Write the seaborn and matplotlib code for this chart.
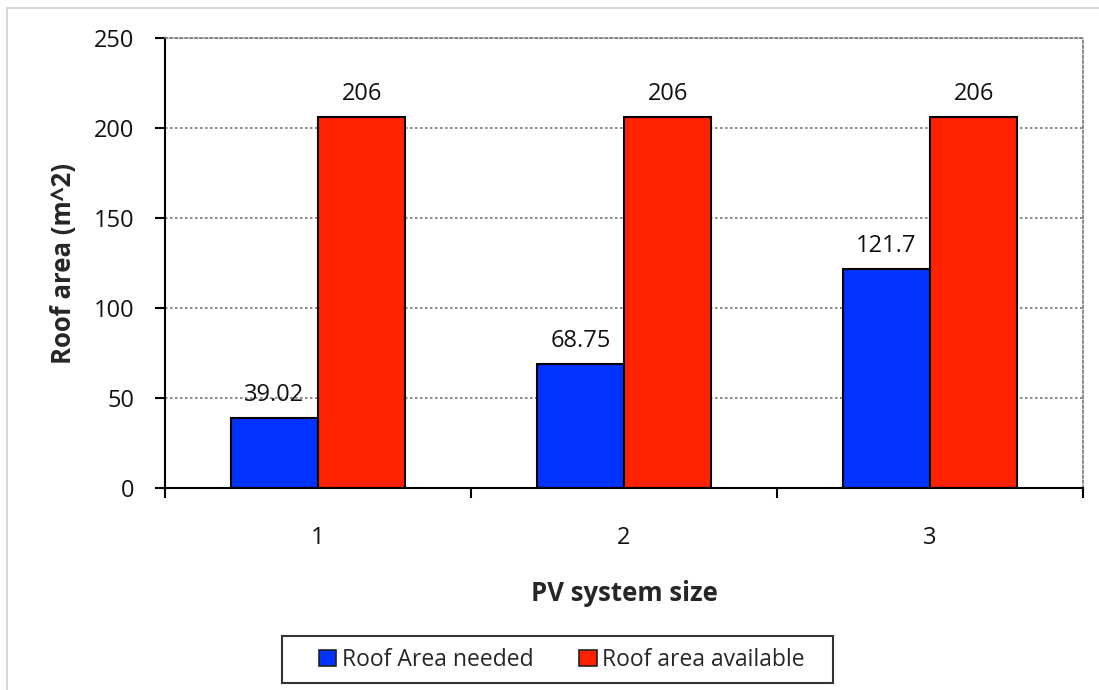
import matplotlib
matplotlib.use("Agg")
import matplotlib.pyplot as plt
from matplotlib.lines import Line2D
from matplotlib.patches import Patch, Rectangle
from matplotlib.ticker import FixedLocator
import seaborn as sns
import pandas as pd

# Data
sizes = ["1", "2", "3"]
area_needed = [39.02, 68.75, 121.7]
area_available = [206, 206, 206]
series_names = ["Roof Area needed", "Roof area available"]
needed_labels = ["39.02", "68.75", "121.7"]
available_labels = ["206", "206", "206"]

colors = ["#0033FF", "#FF2200"]

df = pd.DataFrame({
    "size": sizes * 2,
    "area": area_needed + area_available,
    "series": [series_names[0]] * 3 + [series_names[1]] * 3,
})

sns.set_style("white")
plt.rcParams["font.family"] = ["Open Sans", "DejaVu Sans"]

W, H = 1099, 690
fig = plt.figure(figsize=(W / 100, H / 100), dpi=100)
ax = fig.add_axes([165 / W, 1 - 488 / H, 918 / W, 450 / H])

sns.barplot(data=df, x="size", y="area", hue="series", palette=colors,
            width=0.57, edgecolor="black", linewidth=1.5, ax=ax,
            legend=False, saturation=1)

ax.set_ylim(0, 250)
ax.set_xlim(-0.5, 2.5)
ax.set_yticks([0, 50, 100, 150, 200, 250])
ax.yaxis.grid(True, linestyle=(0, (1.5, 1.5)), color="#777777", linewidth=1.2)
ax.set_axisbelow(True)

# Spines
for s in ["left", "bottom"]:
    ax.spines[s].set_color("black")
    ax.spines[s].set_linewidth(1.5)
for s in ["top", "right"]:
    ax.spines[s].set_color("#777777")
    ax.spines[s].set_linewidth(1.2)
    ax.spines[s].set_linestyle((0, (1.5, 1.5)))

tick_fs = 17
ax.tick_params(axis="y", direction="out", length=7, width=1.5, color="black",
               labelsize=tick_fs, left=True, pad=15, labelcolor="#111111")
ax.tick_params(axis="x", which="major", length=0, labelsize=tick_fs, pad=27,
               labelcolor="#111111")
ax.xaxis.set_minor_locator(FixedLocator([-0.5, 0.5, 1.5, 2.5]))
ax.tick_params(axis="x", which="minor", direction="out", length=7, width=1.5,
               color="black", bottom=True)

ax.set_xlabel("PV system size", fontsize=18.5, fontweight="bold", labelpad=22)
ax.set_ylabel("Roof area (m^2)", fontsize=18.5, fontweight="bold", labelpad=12)

# Value labels
for cont, labels in zip(ax.containers, [needed_labels, available_labels]):
    ax.bar_label(cont, labels=labels, padding=8, fontsize=tick_fs,
                 color="#111111")

# Legend below the plot, inside its own box
handles = [Patch(facecolor=c, edgecolor="#222222", linewidth=1.2) for c in colors]
leg = fig.legend(handles, series_names, loc="center", ncol=2,
                 bbox_to_anchor=(562 / W, 1 - 660 / H), fontsize=16.5,
                 frameon=False, handlelength=0.75, handleheight=0.75,
                 handletextpad=0.25, columnspacing=2.0, borderpad=0.45,
                 borderaxespad=0)
fig.add_artist(Rectangle((282 / W, 1 - 683 / H), 551 / W, 47 / H,
                         transform=fig.transFigure, fill=False,
                         edgecolor="#333333", linewidth=1.5))

# Light border at the top and left of the figure
fig.add_artist(Line2D([7 / W, 7 / W], [0, 1 - 8 / H],
                      color="#d0d0d0", linewidth=1.2))
fig.add_artist(Line2D([7 / W, 1], [1 - 8 / H, 1 - 8 / H],
                      color="#d0d0d0", linewidth=1.2))

fig.savefig("out.png", dpi=100)
